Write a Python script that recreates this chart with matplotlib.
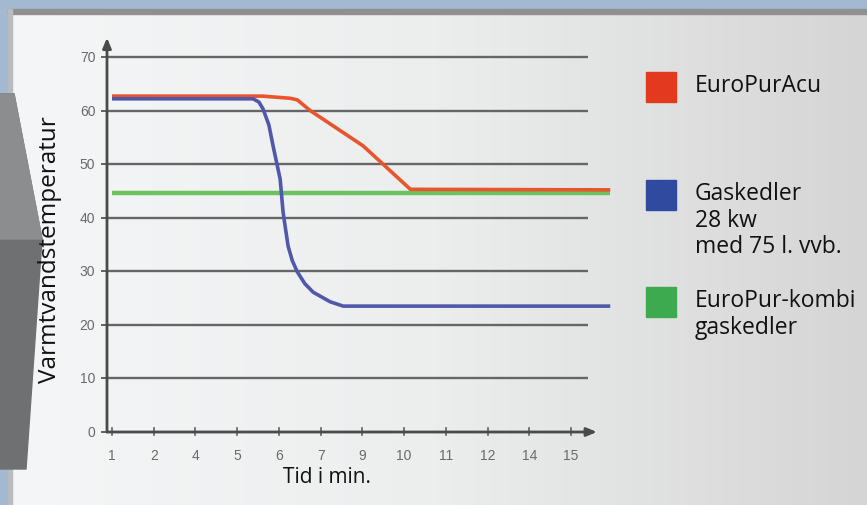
import matplotlib.pyplot as plt
import numpy as np
from matplotlib.colors import LinearSegmentedColormap
from matplotlib.patches import Rectangle, Polygon

# x tick labels (minutes) are evenly spaced on the axis
tick_labels = ["1", "2", "4", "5", "6", "7", "9", "10", "11", "12", "14", "15"]
y_ticks = [0, 10, 20, 30, 40, 50, 60, 70]

# curves, x given in tick-slot units
acu_x = [0, 3.6, 4.27, 4.44, 4.75, 6.02, 7.15, 11.94]
acu_y = [62.7, 62.7, 62.3, 62.0, 60.0, 53.4, 45.3, 45.2]

gas_x = [0, 3.38, 3.52, 3.62, 3.76, 3.86, 4.03, 4.10, 4.22, 4.32, 4.44, 4.62,
         4.82, 5.23, 5.54, 11.94]
gas_y = [62.2, 62.2, 61.6, 60.3, 57.3, 53.4, 47.2, 41.0, 34.7, 32.0, 29.9, 27.7,
         26.1, 24.3, 23.5, 23.5]

kombi_x = [0, 11.94]
kombi_y = [44.7, 44.7]

legend_labels = ["EuroPurAcu", "Gaskedler\n28 kw\nmed 75 l. vvb.", "EuroPur-kombi\ngaskedler"]
legend_colors = ["#e2391f", "#2f4a9e", "#3eaa50"]
line_colors = ["#e8552c", "#5058aa", "#6cc25e"]

W, H = 867, 506
fig = plt.figure(figsize=(W / 100, H / 100), dpi=100)

# background
bg = fig.add_axes([0, 0, 1, 1], zorder=-10)
bg.add_patch(Rectangle((0, 0), W, H, color="#a2b9d1", zorder=0))
grad = np.linspace(0, 1, 256)[None, :]
cmap = LinearSegmentedColormap.from_list("g", ["#f5f6f7", "#eceded", "#d5d5d5"])
bg.imshow(grad, cmap=cmap, extent=(8, W, H, 14), aspect="auto", zorder=1)
bg.add_patch(Rectangle((8, 10), W, 5, color="#8f9090", zorder=2))
bg.add_patch(Rectangle((8, 10), 4, H, color="#b9bcbf", zorder=2))
bg.add_patch(Polygon([(0, 95), (14, 95), (42, 240), (26, 470), (0, 470)],
                     closed=True, color="#6f7072", zorder=3))
bg.add_patch(Polygon([(0, 95), (14, 95), (42, 240), (0, 240)],
                     closed=True, color="#8c8d8f", zorder=3))
bg.set_xlim(0, W)
bg.set_ylim(H, 0)
bg.axis("off")

# plot axes: slot 0 at px 112, 41.73 px per slot; value 0 at px 433, 5.357 px per unit
x0, xs = 112, 41.73
y0, ys = 433, 5.357
xlim = (-0.12, 12.2)
ylim = (0, 74)
ax = fig.add_axes([(x0 + xlim[0] * xs) / W, (H - y0) / H,
                   (xlim[1] - xlim[0]) * xs / W, (ylim[1] - ylim[0]) * ys / H])
ax.set_xlim(*xlim)
ax.set_ylim(*ylim)
ax.patch.set_alpha(0)
for s in ax.spines.values():
    s.set_visible(False)
ax.set_xticks([])
ax.set_yticks([])

axis_col = "#606060"
grid_end = 11.41
ax.hlines(y_ticks[1:], xlim[0], grid_end, color="#666666", lw=1.7, zorder=1)

# axes with arrows
arrow = dict(arrowstyle="-|>,head_length=0.6,head_width=0.25",
             color="#4a4a4a", lw=2.0, shrinkA=0, shrinkB=0)
ax.annotate("", xy=(xlim[0], 73.6), xytext=(xlim[0], 0), arrowprops=arrow)
ax.annotate("", xy=(11.62, 0), xytext=(xlim[0], 0), arrowprops=arrow)

tick_font = dict(fontsize=10, color="#6a6a6a", family="Liberation Sans")
for v in y_ticks:
    ax.plot([xlim[0] - 0.12, xlim[0]], [v, v], color=axis_col, lw=1.4, clip_on=False)
    ax.text(xlim[0] - 0.28, v, str(v), ha="right", va="center", **tick_font)
for i, lab in enumerate(tick_labels):
    ax.plot([i, i], [-0.5, 0.7], color=axis_col, lw=1.2, clip_on=False)
    ax.text(i, -4.3, lab, ha="center", va="center", **tick_font)

ax.plot(kombi_x, kombi_y, color=line_colors[2], lw=3.2, solid_capstyle="butt", zorder=3)
ax.plot(acu_x, acu_y, color=line_colors[0], lw=2.6, solid_capstyle="butt", zorder=4)
ax.plot(gas_x, gas_y, color=line_colors[1], lw=2.6, solid_capstyle="butt", zorder=5)

font = "Open Sans"
fig.text(50 / W, 1 - 250 / H, "Varmtvandstemperatur", rotation=90, ha="center",
         va="center", fontsize=17.5, family=font, color="#111")
fig.text(327 / W, 1 - 478 / H, "Tid i min.", ha="center", va="center",
         fontsize=15, family=font, color="#111")

# legend
sq_tops = [73, 181, 288]
for top, lab, col in zip(sq_tops, legend_labels, legend_colors):
    bg.add_patch(Rectangle((646, top), 30, 30, color=col, zorder=4))
    bg.text(695, top + 1, lab, ha="left", va="top", fontsize=16.5, family=font,
            color="#111", linespacing=1.15, zorder=5)

fig.savefig("out.png", dpi=100)
